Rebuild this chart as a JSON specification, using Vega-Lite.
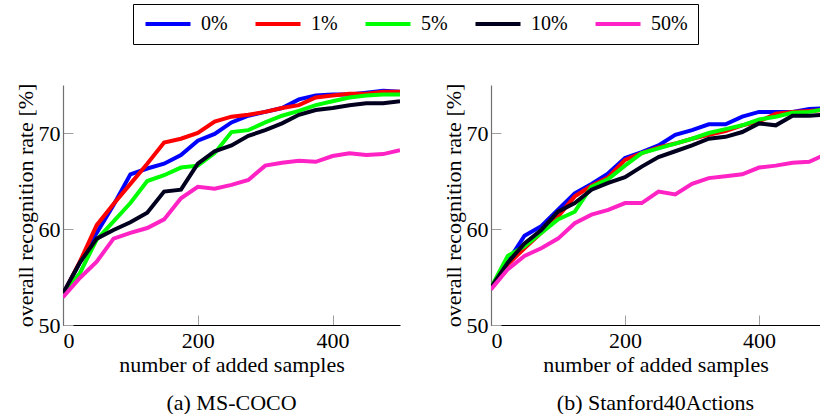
{
  "$schema": "https://vega.github.io/schema/vega-lite/v6.json",
  "padding": {"left": 13, "top": 3, "right": 0, "bottom": 0},
  "datasets": {
    "coco": [
      {"added":0,"noise":"0%","rate":53.2},{"added":25,"noise":"0%","rate":56.5},{"added":50,"noise":"0%","rate":59.6},{"added":75,"noise":"0%","rate":62.5},{"added":100,"noise":"0%","rate":65.7},{"added":125,"noise":"0%","rate":66.3},{"added":150,"noise":"0%","rate":66.8},{"added":175,"noise":"0%","rate":67.7},{"added":200,"noise":"0%","rate":69.2},{"added":225,"noise":"0%","rate":69.9},{"added":250,"noise":"0%","rate":71.1},{"added":275,"noise":"0%","rate":71.8},{"added":300,"noise":"0%","rate":72.2},{"added":325,"noise":"0%","rate":72.6},{"added":350,"noise":"0%","rate":73.5},{"added":375,"noise":"0%","rate":73.9},{"added":400,"noise":"0%","rate":74.0},{"added":425,"noise":"0%","rate":74.0},{"added":450,"noise":"0%","rate":74.2},{"added":475,"noise":"0%","rate":74.4},{"added":500,"noise":"0%","rate":74.3},
      {"added":0,"noise":"1%","rate":53.2},{"added":25,"noise":"1%","rate":56.6},{"added":50,"noise":"1%","rate":60.4},{"added":75,"noise":"1%","rate":62.6},{"added":100,"noise":"1%","rate":64.7},{"added":125,"noise":"1%","rate":66.8},{"added":150,"noise":"1%","rate":69.0},{"added":175,"noise":"1%","rate":69.4},{"added":200,"noise":"1%","rate":70.0},{"added":225,"noise":"1%","rate":71.2},{"added":250,"noise":"1%","rate":71.7},{"added":275,"noise":"1%","rate":71.9},{"added":300,"noise":"1%","rate":72.2},{"added":325,"noise":"1%","rate":72.6},{"added":350,"noise":"1%","rate":72.9},{"added":375,"noise":"1%","rate":73.7},{"added":400,"noise":"1%","rate":73.9},{"added":425,"noise":"1%","rate":74.1},{"added":450,"noise":"1%","rate":74.1},{"added":475,"noise":"1%","rate":74.3},{"added":500,"noise":"1%","rate":74.3},
      {"added":0,"noise":"5%","rate":53.2},{"added":25,"noise":"5%","rate":55.4},{"added":50,"noise":"5%","rate":58.9},{"added":75,"noise":"5%","rate":60.8},{"added":100,"noise":"5%","rate":62.7},{"added":125,"noise":"5%","rate":65.0},{"added":150,"noise":"5%","rate":65.6},{"added":175,"noise":"5%","rate":66.4},{"added":200,"noise":"5%","rate":66.6},{"added":225,"noise":"5%","rate":67.9},{"added":250,"noise":"5%","rate":70.1},{"added":275,"noise":"5%","rate":70.3},{"added":300,"noise":"5%","rate":71.1},{"added":325,"noise":"5%","rate":71.8},{"added":350,"noise":"5%","rate":72.3},{"added":375,"noise":"5%","rate":72.9},{"added":400,"noise":"5%","rate":73.3},{"added":425,"noise":"5%","rate":73.7},{"added":450,"noise":"5%","rate":73.9},{"added":475,"noise":"5%","rate":74.0},{"added":500,"noise":"5%","rate":74.0},
      {"added":0,"noise":"10%","rate":53.3},{"added":25,"noise":"10%","rate":56.5},{"added":50,"noise":"10%","rate":59.0},{"added":75,"noise":"10%","rate":59.9},{"added":100,"noise":"10%","rate":60.7},{"added":125,"noise":"10%","rate":61.7},{"added":150,"noise":"10%","rate":63.9},{"added":175,"noise":"10%","rate":64.1},{"added":200,"noise":"10%","rate":66.8},{"added":225,"noise":"10%","rate":68.1},{"added":250,"noise":"10%","rate":68.7},{"added":275,"noise":"10%","rate":69.7},{"added":300,"noise":"10%","rate":70.3},{"added":325,"noise":"10%","rate":71.0},{"added":350,"noise":"10%","rate":71.9},{"added":375,"noise":"10%","rate":72.4},{"added":400,"noise":"10%","rate":72.6},{"added":425,"noise":"10%","rate":72.9},{"added":450,"noise":"10%","rate":73.1},{"added":475,"noise":"10%","rate":73.1},{"added":500,"noise":"10%","rate":73.3},
      {"added":0,"noise":"50%","rate":52.9},{"added":25,"noise":"50%","rate":54.9},{"added":50,"noise":"50%","rate":56.6},{"added":75,"noise":"50%","rate":59.0},{"added":100,"noise":"50%","rate":59.6},{"added":125,"noise":"50%","rate":60.1},{"added":150,"noise":"50%","rate":61.0},{"added":175,"noise":"50%","rate":63.2},{"added":200,"noise":"50%","rate":64.4},{"added":225,"noise":"50%","rate":64.2},{"added":250,"noise":"50%","rate":64.6},{"added":275,"noise":"50%","rate":65.1},{"added":300,"noise":"50%","rate":66.6},{"added":325,"noise":"50%","rate":66.9},{"added":350,"noise":"50%","rate":67.1},{"added":375,"noise":"50%","rate":67.0},{"added":400,"noise":"50%","rate":67.6},{"added":425,"noise":"50%","rate":67.9},{"added":450,"noise":"50%","rate":67.7},{"added":475,"noise":"50%","rate":67.8},{"added":500,"noise":"50%","rate":68.2}
    ],
    "stanford": [
      {"added":0,"noise":"0%","rate":53.9},{"added":25,"noise":"0%","rate":56.6},{"added":50,"noise":"0%","rate":59.3},{"added":75,"noise":"0%","rate":60.3},{"added":100,"noise":"0%","rate":62.0},{"added":125,"noise":"0%","rate":63.7},{"added":150,"noise":"0%","rate":64.7},{"added":175,"noise":"0%","rate":65.8},{"added":200,"noise":"0%","rate":67.4},{"added":225,"noise":"0%","rate":68.0},{"added":250,"noise":"0%","rate":68.7},{"added":275,"noise":"0%","rate":69.8},{"added":300,"noise":"0%","rate":70.3},{"added":325,"noise":"0%","rate":70.9},{"added":350,"noise":"0%","rate":70.9},{"added":375,"noise":"0%","rate":71.7},{"added":400,"noise":"0%","rate":72.2},{"added":425,"noise":"0%","rate":72.2},{"added":450,"noise":"0%","rate":72.2},{"added":475,"noise":"0%","rate":72.5},{"added":500,"noise":"0%","rate":72.6},
      {"added":0,"noise":"1%","rate":53.9},{"added":25,"noise":"1%","rate":56.3},{"added":50,"noise":"1%","rate":58.0},{"added":75,"noise":"1%","rate":59.6},{"added":100,"noise":"1%","rate":61.3},{"added":125,"noise":"1%","rate":63.4},{"added":150,"noise":"1%","rate":64.5},{"added":175,"noise":"1%","rate":65.4},{"added":200,"noise":"1%","rate":67.2},{"added":225,"noise":"1%","rate":67.9},{"added":250,"noise":"1%","rate":68.5},{"added":275,"noise":"1%","rate":68.9},{"added":300,"noise":"1%","rate":69.4},{"added":325,"noise":"1%","rate":69.8},{"added":350,"noise":"1%","rate":70.2},{"added":375,"noise":"1%","rate":70.8},{"added":400,"noise":"1%","rate":71.2},{"added":425,"noise":"1%","rate":72.0},{"added":450,"noise":"1%","rate":72.2},{"added":475,"noise":"1%","rate":72.3},{"added":500,"noise":"1%","rate":72.4},
      {"added":0,"noise":"5%","rate":53.9},{"added":25,"noise":"5%","rate":57.2},{"added":50,"noise":"5%","rate":58.2},{"added":75,"noise":"5%","rate":59.6},{"added":100,"noise":"5%","rate":61.0},{"added":125,"noise":"5%","rate":61.8},{"added":150,"noise":"5%","rate":64.4},{"added":175,"noise":"5%","rate":65.2},{"added":200,"noise":"5%","rate":66.6},{"added":225,"noise":"5%","rate":67.9},{"added":250,"noise":"5%","rate":68.4},{"added":275,"noise":"5%","rate":68.9},{"added":300,"noise":"5%","rate":69.4},{"added":325,"noise":"5%","rate":70.0},{"added":350,"noise":"5%","rate":70.4},{"added":375,"noise":"5%","rate":70.8},{"added":400,"noise":"5%","rate":71.4},{"added":425,"noise":"5%","rate":71.7},{"added":450,"noise":"5%","rate":72.1},{"added":475,"noise":"5%","rate":72.2},{"added":500,"noise":"5%","rate":72.5},
      {"added":0,"noise":"10%","rate":53.9},{"added":25,"noise":"10%","rate":56.5},{"added":50,"noise":"10%","rate":58.5},{"added":75,"noise":"10%","rate":59.9},{"added":100,"noise":"10%","rate":61.8},{"added":125,"noise":"10%","rate":62.7},{"added":150,"noise":"10%","rate":64.1},{"added":175,"noise":"10%","rate":64.8},{"added":200,"noise":"10%","rate":65.4},{"added":225,"noise":"10%","rate":66.5},{"added":250,"noise":"10%","rate":67.5},{"added":275,"noise":"10%","rate":68.1},{"added":300,"noise":"10%","rate":68.7},{"added":325,"noise":"10%","rate":69.4},{"added":350,"noise":"10%","rate":69.6},{"added":375,"noise":"10%","rate":70.1},{"added":400,"noise":"10%","rate":71.0},{"added":425,"noise":"10%","rate":70.8},{"added":450,"noise":"10%","rate":71.8},{"added":475,"noise":"10%","rate":71.8},{"added":500,"noise":"10%","rate":71.9},
      {"added":0,"noise":"50%","rate":53.7},{"added":25,"noise":"50%","rate":55.8},{"added":50,"noise":"50%","rate":57.2},{"added":75,"noise":"50%","rate":58.0},{"added":100,"noise":"50%","rate":59.0},{"added":125,"noise":"50%","rate":60.6},{"added":150,"noise":"50%","rate":61.5},{"added":175,"noise":"50%","rate":62.0},{"added":200,"noise":"50%","rate":62.7},{"added":225,"noise":"50%","rate":62.7},{"added":250,"noise":"50%","rate":63.9},{"added":275,"noise":"50%","rate":63.6},{"added":300,"noise":"50%","rate":64.7},{"added":325,"noise":"50%","rate":65.3},{"added":350,"noise":"50%","rate":65.5},{"added":375,"noise":"50%","rate":65.7},{"added":400,"noise":"50%","rate":66.4},{"added":425,"noise":"50%","rate":66.6},{"added":450,"noise":"50%","rate":66.9},{"added":475,"noise":"50%","rate":67.0},{"added":500,"noise":"50%","rate":67.8}
    ]
  },
  "config": {
    "view": {"stroke": null},
    "concat": {"spacing": 41},
    "style": {
      "guide-label": {"font": "Liberation Serif", "fontSize": 22, "fill": "black"},
      "guide-title": {"font": "Liberation Serif", "fontSize": 22, "fontWeight": "normal", "fill": "black"},
      "group-title": {"font": "Liberation Serif", "fontSize": 22, "fontWeight": "normal", "fill": "black"}
    },
    "axis": {
      "grid": false,
      "tickSize": -10,
      "tickColor": "#a0a0a0",
      "tickWidth": 1,
      "domainWidth": 1.2
    },
    "axisX": {"domainColor": "black"},
    "axisY": {"domainColor": "#707070"},
    "title": {"font": "Liberation Serif", "fontSize": 22, "fontWeight": "normal", "color": "black", "orient": "bottom", "offset": 18},
    "legend": {
      "orient": "none",
      "legendX": 70,
      "legendY": -81,
      "direction": "horizontal",
      "symbolType": "M-3,0H3",
      "symbolStrokeWidth": 4,
      "symbolSize": 225,
      "symbolOffset": 15,
      "labelOffset": 23,
      "columnPadding": 19,
      "padding": 10,
      "strokeColor": "black",
      "strokeWidth": 1,
      "fillColor": "white"
    }
  },
  "resolve": {"scale": {"color": "shared"}},
  "hconcat": [
    {
      "width": 337,
      "height": 240,
      "data": {"name": "coco"},
      "title": {"text": "(a) MS-COCO", "font": "Liberation Serif", "fontSize": 22, "fontWeight": "normal"},
      "mark": {"type": "line", "strokeWidth": 4, "clip": true},
      "encoding": {
        "x": {"field": "added", "type": "quantitative", "scale": {"domain": [0, 500], "nice": false},
              "axis": {"values": [0, 200, 400], "title": "number of added samples", "labelFont": "Liberation Serif", "labelFontSize": 22, "labelColor": "black", "titleFont": "Liberation Serif", "titleFontSize": 22, "titleFontWeight": "normal", "titleColor": "black", "labelPadding": 15, "titlePadding": 3}},
        "y": {"field": "rate", "type": "quantitative", "scale": {"domain": [50, 75], "nice": false, "zero": false},
              "axis": {"values": [50, 60, 70], "title": "overall recognition rate [%]", "labelFont": "Liberation Serif", "labelFontSize": 22, "labelColor": "black", "titleFont": "Liberation Serif", "titleFontSize": 22, "titleFontWeight": "normal", "titleColor": "black", "labelPadding": 13, "titlePadding": 1}},
        "color": {"field": "noise", "type": "nominal", "sort": ["0%", "1%", "5%", "10%", "50%"],
                  "scale": {"domain": ["0%", "1%", "5%", "10%", "50%"], "range": ["#0000ff", "#ff0000", "#00ff00", "#00001e", "#ff22c4"]},
                  "legend": {"title": null, "labelFont": "Liberation Serif", "labelFontSize": 20, "labelColor": "black"}}
      }
    },
    {
      "width": 329,
      "height": 240,
      "data": {"name": "stanford"},
      "title": {"text": "(b) Stanford40Actions", "font": "Liberation Serif", "fontSize": 22, "fontWeight": "normal"},
      "mark": {"type": "line", "strokeWidth": 4, "clip": true},
      "encoding": {
        "x": {"field": "added", "type": "quantitative", "scale": {"domain": [0, 491], "nice": false},
              "axis": {"values": [0, 200, 400], "title": "number of added samples", "labelFont": "Liberation Serif", "labelFontSize": 22, "labelColor": "black", "titleFont": "Liberation Serif", "titleFontSize": 22, "titleFontWeight": "normal", "titleColor": "black", "labelPadding": 15, "titlePadding": 3}},
        "y": {"field": "rate", "type": "quantitative", "scale": {"domain": [50, 75], "nice": false, "zero": false},
              "axis": {"values": [50, 60, 70], "title": "overall recognition rate [%]", "labelFont": "Liberation Serif", "labelFontSize": 22, "labelColor": "black", "titleFont": "Liberation Serif", "titleFontSize": 22, "titleFontWeight": "normal", "titleColor": "black", "labelPadding": 13, "titlePadding": 1}},
        "color": {"field": "noise", "type": "nominal", "sort": ["0%", "1%", "5%", "10%", "50%"],
                  "scale": {"domain": ["0%", "1%", "5%", "10%", "50%"], "range": ["#0000ff", "#ff0000", "#00ff00", "#00001e", "#ff22c4"]},
                  "legend": {"title": null, "labelFont": "Liberation Serif", "labelFontSize": 20, "labelColor": "black"}}
      }
    }
  ]
}
